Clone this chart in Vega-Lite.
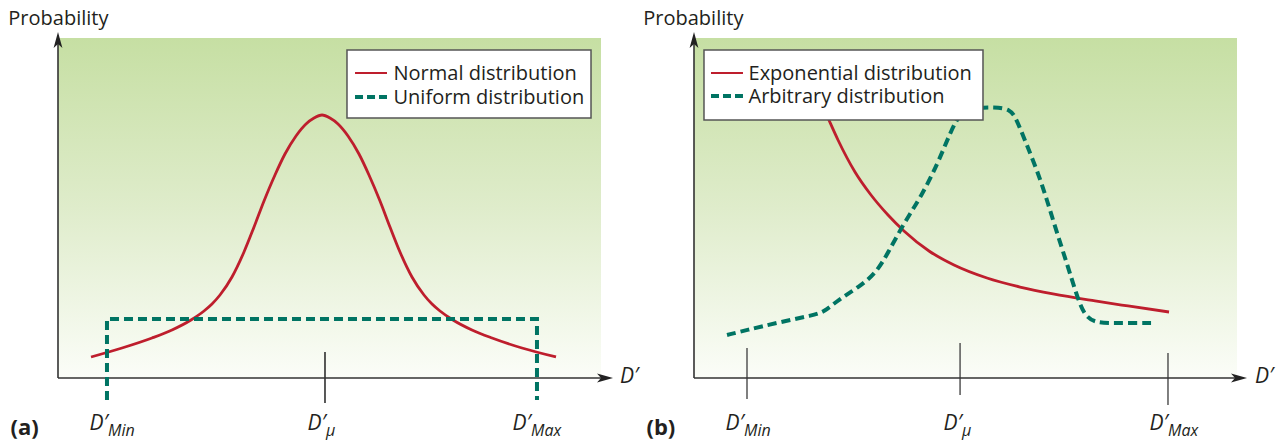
{
  "$schema": "https://vega.github.io/schema/vega-lite/v6.json",
  "background": "white",
  "padding": {"left": 8, "top": 9, "right": 5, "bottom": 5},
  "config": {"view": {"stroke": null}, "font": "Open Sans"},
  "spacing": 93,
  "bounds": "flush",
  "datasets": {
    "bg": [{"x": 0, "x2": 100, "y": 0, "y2": 100}],
    "axesA": [{"x": 0, "x2": 100.74, "y": 0, "y2": 0}, {"x": 0, "x2": 0, "y": 0, "y2": 99.41}],
    "axesB": [{"x": 0, "x2": 100.37, "y": 0, "y2": 0}, {"x": 0, "x2": 0, "y": 0, "y2": 99.41}],
    "normal": [{"x":6.08,"y":6.18},{"x":11.79,"y":8.82},{"x":17.31,"y":11.76},{"x":20.99,"y":14.12},{"x":24.49,"y":17.06},{"x":26.89,"y":19.71},{"x":28.36,"y":21.76},{"x":29.83,"y":24.41},{"x":32.04,"y":29.71},{"x":34.25,"y":37.06},{"x":36.10,"y":44.41},{"x":37.94,"y":52.06},{"x":39.96,"y":59.71},{"x":41.80,"y":65.88},{"x":43.83,"y":71.18},{"x":45.67,"y":74.71},{"x":47.15,"y":76.47},{"x":48.62,"y":77.35},{"x":50.09,"y":76.47},{"x":51.57,"y":74.71},{"x":53.41,"y":71.18},{"x":55.43,"y":65.88},{"x":57.27,"y":59.71},{"x":59.30,"y":52.06},{"x":61.14,"y":44.41},{"x":62.98,"y":37.06},{"x":65.19,"y":29.71},{"x":67.40,"y":24.41},{"x":68.88,"y":21.76},{"x":70.35,"y":19.71},{"x":72.74,"y":17.06},{"x":76.24,"y":14.12},{"x":79.93,"y":11.76},{"x":85.45,"y":8.82},{"x":91.71,"y":6.18}],
    "uniform": [{"o":1,"x":9.02,"y":-6.47},{"o":2,"x":9.02,"y":17.35},{"o":3,"x":88.21,"y":17.35},{"o":4,"x":88.21,"y":-6.47}],
    "expo": [{"x":23.20,"y":81.76},{"x":24.68,"y":76.47},{"x":26.52,"y":70.0},{"x":29.65,"y":60.59},{"x":32.60,"y":53.82},{"x":35.73,"y":47.94},{"x":38.67,"y":43.24},{"x":43.28,"y":37.35},{"x":47.88,"y":33.24},{"x":53.96,"y":29.41},{"x":60.04,"y":26.76},{"x":66.11,"y":24.71},{"x":73.85,"y":22.65},{"x":79.93,"y":21.18},{"x":87.48,"y":19.41}],
    "arbitrary": [{"x":6.08,"y":12.65},{"x":9.76,"y":14.12},{"x":15.10,"y":16.18},{"x":22.10,"y":18.53},{"x":23.94,"y":19.41},{"x":26.52,"y":22.94},{"x":30.39,"y":26.76},{"x":33.52,"y":30.88},{"x":35.73,"y":36.76},{"x":38.67,"y":45.59},{"x":41.80,"y":53.24},{"x":44.94,"y":63.24},{"x":47.15,"y":72.06},{"x":48.99,"y":77.94},{"x":51.01,"y":79.41},{"x":55.43,"y":79.71},{"x":58.20,"y":79.12},{"x":59.30,"y":76.47},{"x":61.14,"y":69.12},{"x":63.17,"y":61.18},{"x":65.01,"y":52.35},{"x":66.85,"y":42.65},{"x":68.88,"y":32.65},{"x":70.35,"y":25.0},{"x":71.82,"y":18.5},{"x":73.85,"y":16.18},{"x":77.53,"y":16.18},{"x":84.35,"y":16.18}],
    "txtA": [{"x":-9.15,"y":103.82,"t":"Probability"},{"x":61.79,"y":87.65,"t":"Normal distribution"},{"x":61.79,"y":80.59,"t":"Uniform distribution"}],
    "txtB": [{"x":-9.34,"y":103.82,"t":"Probability"},{"x":10.04,"y":87.65,"t":"Exponential distribution"},{"x":10.04,"y":80.88,"t":"Arbitrary distribution"}],
    "dA": [{"x":9.21,"y":-15.29,"t":"D′"},{"x":49.36,"y":-15.29,"t":"D′"},{"x":87.11,"y":-15.29,"t":"D′"}],
    "subA": [{"x":9.21,"y":-17.06,"t":"Min"},{"x":49.36,"y":-17.06,"t":"μ"},{"x":87.11,"y":-17.06,"t":"Max"}],
    "dB": [{"x":9.21,"y":-15.29,"t":"D′"},{"x":49.36,"y":-15.29,"t":"D′"},{"x":87.29,"y":-15.29,"t":"D′"}],
    "subB": [{"x":9.21,"y":-17.06,"t":"Min"},{"x":49.36,"y":-17.06,"t":"μ"},{"x":87.29,"y":-17.06,"t":"Max"}]
  },
  "hconcat": [
    {
      "width": 543,
      "height": 340,
      "encoding": {
        "x": {"field": "x", "type": "quantitative", "scale": {"domain": [0, 100], "nice": false, "zero": false}, "axis": null},
        "y": {"field": "y", "type": "quantitative", "scale": {"domain": [0, 100], "nice": false, "zero": false}, "axis": null}
      },
      "layer": [
        {"data": {"name": "bg"}, "mark": {"type": "rect", "fill": {"gradient": "linear", "x1": 0, "y1": 0, "x2": 0, "y2": 1, "stops": [{"offset": 0, "color": "#c6dfa3"}, {"offset": 0.5, "color": "#dfeccb"}, {"offset": 1, "color": "#fbfdf8"}]}}, "encoding": {"x2": {"field": "x2"}, "y2": {"field": "y2"}}},
        {"data": {"values": [{"x": 49.17, "y": 7.65, "y2": -7.35}]}, "mark": {"type": "rule", "color": "#222", "strokeWidth": 1.5}, "encoding": {"y2": {"field": "y2"}}},
        {"data": {"name": "axesA"}, "mark": {"type": "rule", "color": "#333", "strokeWidth": 1.6}, "encoding": {"x2": {"field": "x2"}, "y2": {"field": "y2"}}},
        {"data": {"values": [{"x": 100.74, "y": 0}]}, "mark": {"type": "point", "shape": "M1,0L-1,-0.55L-0.5,0L-1,0.55Z", "size": 256, "filled": true, "color": "#222", "opacity": 1, "strokeWidth": 0}},
        {"data": {"values": [{"x": 0, "y": 99.41}]}, "mark": {"type": "point", "shape": "M0,-1L-0.55,1L0,0.5L0.55,1Z", "size": 256, "filled": true, "color": "#222", "opacity": 1, "strokeWidth": 0}},
        {"data": {"name": "normal"}, "mark": {"type": "line", "interpolate": "monotone", "color": "#be1e2d", "strokeWidth": 2.8}},
        {"data": {"name": "uniform"}, "mark": {"type": "line", "color": "#007463", "strokeWidth": 4, "strokeDash": [9, 5]}, "encoding": {"order": {"field": "o", "type": "quantitative"}}},
        {"data": {"values": [{"x": 53.22, "x2": 98.16, "y": 96.47, "y2": 76.47}]}, "mark": {"type": "rect", "fill": "white", "stroke": "#555", "strokeWidth": 1.5}, "encoding": {"x2": {"field": "x2"}, "y2": {"field": "y2"}}},
        {"data": {"values": [{"x": 54.7, "x2": 60.59, "y": 89.71}]}, "mark": {"type": "rule", "color": "#be1e2d", "strokeWidth": 2}, "encoding": {"x2": {"field": "x2"}}},
        {"data": {"values": [{"x": 54.7, "x2": 60.59, "y": 82.65}]}, "mark": {"type": "rule", "color": "#007463", "strokeWidth": 4, "strokeDash": [8, 4]}, "encoding": {"x2": {"field": "x2"}}},
        {"data": {"name": "txtA"}, "mark": {"type": "text", "align": "left", "baseline": "alphabetic", "fontSize": 20, "color": "#231f20"}, "encoding": {"text": {"field": "t"}}},
        {"data": {"name": "dA"}, "mark": {"type": "text", "align": "right", "baseline": "alphabetic", "fontSize": 21, "fontStyle": "italic", "color": "#231f20"}, "encoding": {"text": {"field": "t"}}},
        {"data": {"name": "subA"}, "mark": {"type": "text", "align": "left", "baseline": "alphabetic", "fontSize": 16, "fontStyle": "italic", "color": "#231f20"}, "encoding": {"text": {"field": "t"}}},
        {"data": {"values": [{"x": 103.5, "y": -1.47, "t": "D′"}]}, "mark": {"type": "text", "align": "left", "baseline": "alphabetic", "fontSize": 21, "fontStyle": "italic", "color": "#231f20"}, "encoding": {"text": {"field": "t"}}},
        {"data": {"values": [{"x": -8.75, "y": -16.76, "t": "(a)"}]}, "mark": {"type": "text", "align": "left", "baseline": "alphabetic", "fontSize": 22, "fontWeight": "bold", "color": "#231f20"}, "encoding": {"text": {"field": "t"}}}
      ]
    },
    {
      "width": 543,
      "height": 340,
      "encoding": {
        "x": {"field": "x", "type": "quantitative", "scale": {"domain": [0, 100], "nice": false, "zero": false}, "axis": null},
        "y": {"field": "y", "type": "quantitative", "scale": {"domain": [0, 100], "nice": false, "zero": false}, "axis": null}
      },
      "layer": [
        {"data": {"name": "bg"}, "mark": {"type": "rect", "fill": {"gradient": "linear", "x1": 0, "y1": 0, "x2": 0, "y2": 1, "stops": [{"offset": 0, "color": "#c6dfa3"}, {"offset": 0.5, "color": "#dfeccb"}, {"offset": 1, "color": "#fbfdf8"}]}}, "encoding": {"x2": {"field": "x2"}, "y2": {"field": "y2"}}},
        {"data": {"values": [{"x": 9.76, "y": 8.82, "y2": -6.18}, {"x": 49.0, "y": 10.29, "y2": -5.0}, {"x": 87.29, "y": 7.35, "y2": -7.94}]}, "mark": {"type": "rule", "color": "#555", "strokeWidth": 1.5}, "encoding": {"y2": {"field": "y2"}}},
        {"data": {"name": "axesB"}, "mark": {"type": "rule", "color": "#333", "strokeWidth": 1.6}, "encoding": {"x2": {"field": "x2"}, "y2": {"field": "y2"}}},
        {"data": {"values": [{"x": 100.37, "y": 0}]}, "mark": {"type": "point", "shape": "M1,0L-1,-0.55L-0.5,0L-1,0.55Z", "size": 256, "filled": true, "color": "#222", "opacity": 1, "strokeWidth": 0}},
        {"data": {"values": [{"x": 0, "y": 99.41}]}, "mark": {"type": "point", "shape": "M0,-1L-0.55,1L0,0.5L0.55,1Z", "size": 256, "filled": true, "color": "#222", "opacity": 1, "strokeWidth": 0}},
        {"data": {"name": "expo"}, "mark": {"type": "line", "interpolate": "monotone", "color": "#be1e2d", "strokeWidth": 2.8}},
        {"data": {"name": "arbitrary"}, "mark": {"type": "line", "interpolate": "basis", "color": "#007463", "strokeWidth": 4, "strokeDash": [9, 5]}},
        {"data": {"values": [{"x": 1.84, "x2": 53.22, "y": 96.47, "y2": 75.88}]}, "mark": {"type": "rect", "fill": "white", "stroke": "#555", "strokeWidth": 1.5}, "encoding": {"x2": {"field": "x2"}, "y2": {"field": "y2"}}},
        {"data": {"values": [{"x": 3.13, "x2": 9.02, "y": 89.71}]}, "mark": {"type": "rule", "color": "#be1e2d", "strokeWidth": 2}, "encoding": {"x2": {"field": "x2"}}},
        {"data": {"values": [{"x": 3.13, "x2": 9.02, "y": 82.94}]}, "mark": {"type": "rule", "color": "#007463", "strokeWidth": 4, "strokeDash": [8, 4]}, "encoding": {"x2": {"field": "x2"}}},
        {"data": {"name": "txtB"}, "mark": {"type": "text", "align": "left", "baseline": "alphabetic", "fontSize": 20, "color": "#231f20"}, "encoding": {"text": {"field": "t"}}},
        {"data": {"name": "dB"}, "mark": {"type": "text", "align": "right", "baseline": "alphabetic", "fontSize": 21, "fontStyle": "italic", "color": "#231f20"}, "encoding": {"text": {"field": "t"}}},
        {"data": {"name": "subB"}, "mark": {"type": "text", "align": "left", "baseline": "alphabetic", "fontSize": 16, "fontStyle": "italic", "color": "#231f20"}, "encoding": {"text": {"field": "t"}}},
        {"data": {"values": [{"x": 103.3, "y": -1.47, "t": "D′"}]}, "mark": {"type": "text", "align": "left", "baseline": "alphabetic", "fontSize": 21, "fontStyle": "italic", "color": "#231f20"}, "encoding": {"text": {"field": "t"}}},
        {"data": {"values": [{"x": -8.75, "y": -16.76, "t": "(b)"}]}, "mark": {"type": "text", "align": "left", "baseline": "alphabetic", "fontSize": 22, "fontWeight": "bold", "color": "#231f20"}, "encoding": {"text": {"field": "t"}}}
      ]
    }
  ]
}
